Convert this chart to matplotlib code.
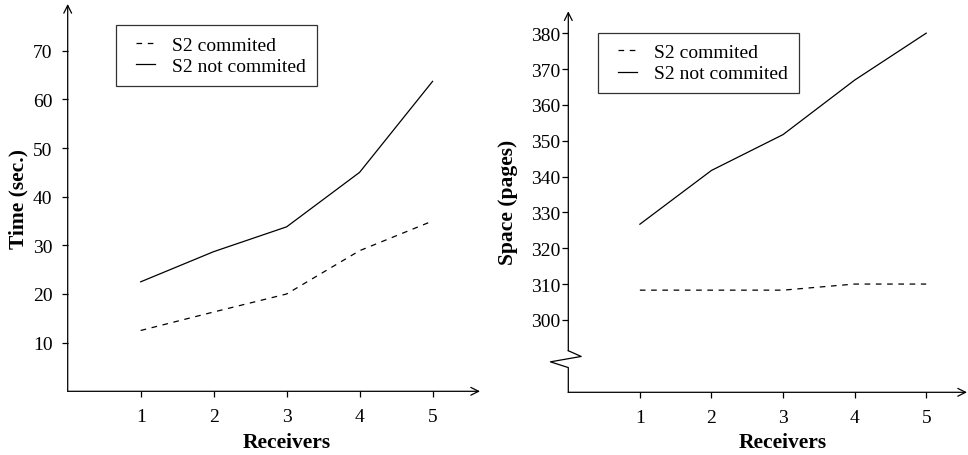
import matplotlib
matplotlib.use("Agg")
import matplotlib.pyplot as plt
from matplotlib.lines import Line2D
from matplotlib.legend_handler import HandlerLine2D

plt.rcParams['font.family'] = ['Liberation Serif', 'DejaVu Serif']

receivers = [1, 2, 3, 4, 5]
labels = ["S2 commited", "S2 not commited"]

# left panel: time
time_commited = [12.5, 16.3, 20.0, 28.9, 35.0]
time_not_commited = [22.5, 28.7, 33.8, 45.0, 63.7]
time_ticks = [10, 20, 30, 40, 50, 60, 70]

# right panel: space
space_commited = [308.3, 308.3, 308.3, 310.0, 310.0]
space_not_commited = [326.7, 341.7, 351.7, 366.9, 380.0]
space_ticks = [300, 310, 320, 330, 340, 350, 360, 370, 380]

W, H = 968, 456
fig = plt.figure(figsize=(W / 100, H / 100), dpi=100)


def px_axes(x0, y_axis, x1, y_top):
    # pixel box -> figure fraction
    return fig.add_axes([x0 / W, (H - y_axis) / H, (x1 - x0) / W, (y_axis - y_top) / H])


def style(ax, xlim, ylim, yticks, ylabel, ylabel_x, xlabel_x, legend_pos, ypad, broken=False):
    ax.set_xlim(*xlim)
    ax.set_ylim(*ylim)
    for s in ax.spines.values():
        s.set_visible(False)
    ax.set_xticks(receivers)
    ax.set_yticks(yticks)
    ax.tick_params(axis='both', direction='out', length=4, width=0.9,
                   labelsize=14, color='black', labelcolor='black')
    ax.tick_params(axis='x', pad=8)
    ax.tick_params(axis='y', pad=ypad)
    ax.patch.set_visible(False)

    # axis arrows
    arrow = dict(arrowstyle='->', lw=0.9, color='black', mutation_scale=14, shrinkA=0, shrinkB=0)
    ax.annotate('', xy=(1, 0), xytext=(0, 0), xycoords='axes fraction', arrowprops=arrow)
    if not broken:
        ax.annotate('', xy=(0, 1), xytext=(0, 0), xycoords='axes fraction', arrowprops=arrow)
    else:
        y_lo, y_hi = ylim
        b0, b1 = 291.4, 286.7
        ax.annotate('', xy=(0, y_hi), xytext=(0, b0), xycoords='data', arrowprops=arrow,
                    annotation_clip=False)
        zx = [0, 0.18, -0.25, 0, 0]
        zy = [b0, 289.8, 288.3, b1, y_lo]
        ax.add_line(Line2D(zx, zy, color='black', lw=0.9, clip_on=False))

    ax.text(ylabel_x, 0.5, ylabel, transform=ax.transAxes, rotation=90,
            ha='center', va='center', fontsize=15.5, fontweight='bold')
    ax.text(xlabel_x, -0.13, 'Receivers', transform=ax.transAxes,
            ha='center', va='center', fontsize=15.5, fontweight='bold')

    leg = ax.legend(loc='upper left', bbox_to_anchor=legend_pos, borderaxespad=0,
                    fontsize=14, frameon=True, fancybox=False, handlelength=1.46,
                    handletextpad=0.88, borderpad=0.55, labelspacing=0.2,
                    handler_map={Line2D: HandlerLine2D(xpad=0.48)})
    leg.get_frame().set_edgecolor('black')
    leg.get_frame().set_linewidth(0.9)
    return leg


dash = (0, (4.5, 4.5))

ax1 = px_axes(67.7, 392.3, 480, 5)
ax1.plot(receivers, time_commited, color='black', lw=0.9, linestyle=dash, label=labels[0])
ax1.plot(receivers, time_not_commited, color='black', lw=0.9, label=labels[1])
style(ax1, (0, 5.65), (0, 79.6), time_ticks, 'Time (sec.)', -0.12, 0.531,
      (0.117, 0.945), ypad=7)

ax2 = px_axes(568.3, 393.3, 967, 12.3)
ax2.plot(receivers, space_commited, color='black', lw=0.9, linestyle=dash, label=labels[0])
ax2.plot(receivers, space_not_commited, color='black', lw=0.9, label=labels[1])
style(ax2, (0, 5.57), (279.8, 386.1), space_ticks, 'Space (pages)', -0.151, 0.539,
      (0.075, 0.944), ypad=2, broken=True)

fig.savefig('out.png', dpi=100)
